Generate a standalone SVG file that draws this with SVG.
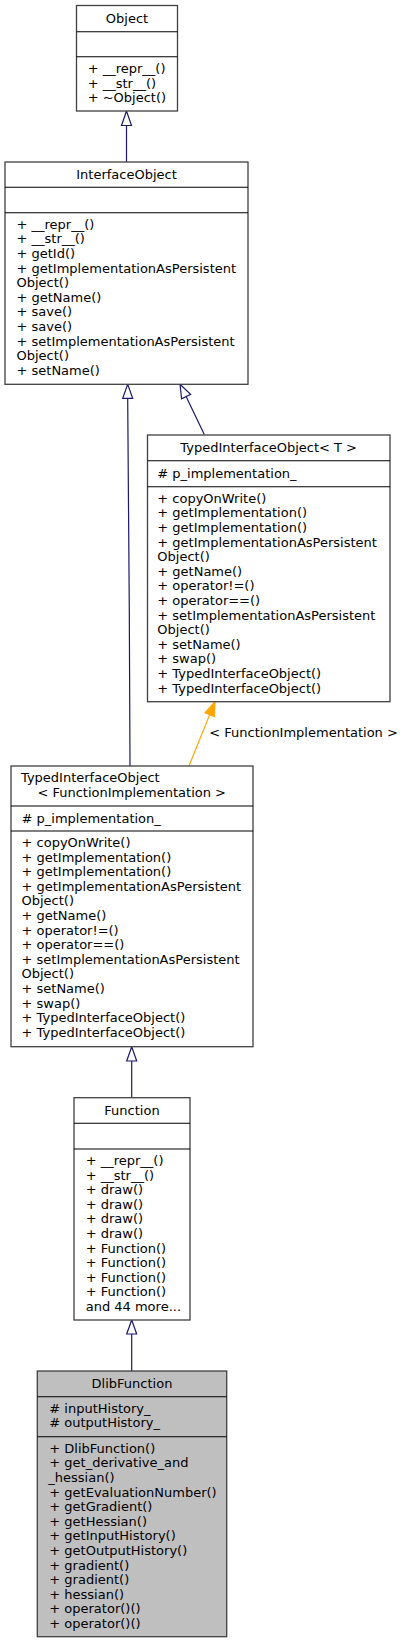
<svg xmlns="http://www.w3.org/2000/svg" width="403" height="1644" viewBox="0 0 403 1644">
<style>
text{font-family:"DejaVu Sans",sans-serif;font-size:13px;fill:#000}
.c{text-anchor:middle}
.box{fill:#fff;stroke:#404040;stroke-width:1.3}
.sel{fill:#bfbfbf;stroke:#404040;stroke-width:1.3}
.div{stroke:#000;stroke-width:1.1}
.edge{fill:none;stroke:#191970;stroke-width:1.2}
.head{fill:#fff;stroke:#191970;stroke-width:1.2}
.tedge{fill:none;stroke:#ffa500;stroke-width:1.2}
.thead{fill:#ffa500;stroke:#ffa500;stroke-width:1.2}
</style>
<rect width="403" height="1644" fill="#fff"/>
<g id="connectors">
<path class="edge" d="M126.5,125.5 L126.5,162"/>
<polygon class="head" points="126.5,111 121.5,125.5 131.5,125.5"/>
<path class="edge" d="M127.7,398.3 C128.2,500 130,650 130,766"/>
<polygon class="head" points="127.7,384.3 122.7,398.3 132.7,398.3"/>
<path class="edge" d="M186.1,396.6 L204.3,434.5"/>
<polygon class="head" points="180,384.3 190.6,394.4 181.6,398.8"/>
<path class="tedge" d="M209.7,714.6 L189,766"/>
<polygon class="thead" points="215,701.7 214.3,716.5 205.1,712.7"/>
<text x="209.3" y="736.7">&lt; FunctionImplementation &gt;</text>
<path class="edge" d="M131.7,1061 L131.7,1097.7"/>
<polygon class="head" points="131.7,1046.7 126.7,1061 136.7,1061"/>
<path class="edge" d="M131.7,1334 L131.7,1371"/>
<polygon class="head" points="131.7,1320 126.7,1334 136.7,1334"/>
</g>
<g id="Object">
<rect class="box" x="76.5" y="5.5" width="101" height="105.5"/>
<line class="div" x1="76.5" y1="31.7" x2="177.5" y2="31.7"/>
<line class="div" x1="76.5" y1="56.7" x2="177.5" y2="56.7"/>
<text class="c" x="127" y="22.8">Object</text>
<text x="87.7" y="73.3">+ __repr__()</text>
<text x="87.7" y="87.8">+ __str__()</text>
<text x="87.7" y="102.3">+ ~Object()</text>
</g>
<g id="InterfaceObject">
<rect class="box" x="5" y="162" width="243" height="222.3"/>
<line class="div" x1="5" y1="187.3" x2="248" y2="187.3"/>
<line class="div" x1="5" y1="212.7" x2="248" y2="212.7"/>
<text class="c" x="126.5" y="178.5">InterfaceObject</text>
<text x="16.5" y="228.7">+ __repr__()</text>
<text x="16.5" y="243.3">+ __str__()</text>
<text x="16.5" y="257.9">+ getId()</text>
<text x="16.5" y="272.5">+ getImplementationAsPersistent</text>
<text x="16.5" y="287.1">Object()</text>
<text x="16.5" y="301.7">+ getName()</text>
<text x="16.5" y="316.3">+ save()</text>
<text x="16.5" y="330.9">+ save()</text>
<text x="16.5" y="345.5">+ setImplementationAsPersistent</text>
<text x="16.5" y="360.1">Object()</text>
<text x="16.5" y="374.7">+ setName()</text>
</g>
<g id="TypedInterfaceObjectT">
<rect class="box" x="147.5" y="435" width="242.5" height="266.7"/>
<line class="div" x1="147.5" y1="460.7" x2="390" y2="460.7"/>
<line class="div" x1="147.5" y1="486.7" x2="390" y2="486.7"/>
<text class="c" x="268.7" y="452.2">TypedInterfaceObject&lt; T &gt;</text>
<text x="157.3" y="478">#  p_implementation_</text>
<text x="157.3" y="502.7">+ copyOnWrite()</text>
<text x="157.3" y="517.3">+ getImplementation()</text>
<text x="157.3" y="531.9">+ getImplementation()</text>
<text x="157.3" y="546.5">+ getImplementationAsPersistent</text>
<text x="157.3" y="561.1">Object()</text>
<text x="157.3" y="575.7">+ getName()</text>
<text x="157.3" y="590.3">+ operator!=()</text>
<text x="157.3" y="604.9">+ operator==()</text>
<text x="157.3" y="619.5">+ setImplementationAsPersistent</text>
<text x="157.3" y="634.1">Object()</text>
<text x="157.3" y="648.7">+ setName()</text>
<text x="157.3" y="663.3">+ swap()</text>
<text x="157.3" y="677.9">+ TypedInterfaceObject()</text>
<text x="157.3" y="692.5">+ TypedInterfaceObject()</text>
</g>
<g id="TypedInterfaceObjectFI">
<rect class="box" x="11" y="766" width="242" height="280.7"/>
<line class="div" x1="11" y1="806" x2="253" y2="806"/>
<line class="div" x1="11" y1="831" x2="253" y2="831"/>
<text x="21" y="781.7">TypedInterfaceObject</text>
<text class="c" x="131.7" y="796.5">&lt; FunctionImplementation &gt;</text>
<text x="21.5" y="822.8">#  p_implementation_</text>
<text x="21.5" y="847">+ copyOnWrite()</text>
<text x="21.5" y="861.6">+ getImplementation()</text>
<text x="21.5" y="876.2">+ getImplementation()</text>
<text x="21.5" y="890.8">+ getImplementationAsPersistent</text>
<text x="21.5" y="905.4">Object()</text>
<text x="21.5" y="920">+ getName()</text>
<text x="21.5" y="934.6">+ operator!=()</text>
<text x="21.5" y="949.2">+ operator==()</text>
<text x="21.5" y="963.8">+ setImplementationAsPersistent</text>
<text x="21.5" y="978.4">Object()</text>
<text x="21.5" y="993">+ setName()</text>
<text x="21.5" y="1007.6">+ swap()</text>
<text x="21.5" y="1022.2">+ TypedInterfaceObject()</text>
<text x="21.5" y="1036.8">+ TypedInterfaceObject()</text>
</g>
<g id="Function">
<rect class="box" x="74" y="1097.7" width="116" height="222.3"/>
<line class="div" x1="74" y1="1123.3" x2="190" y2="1123.3"/>
<line class="div" x1="74" y1="1149" x2="190" y2="1149"/>
<text class="c" x="132" y="1114.8">Function</text>
<text x="85.7" y="1165">+ __repr__()</text>
<text x="85.7" y="1179.6">+ __str__()</text>
<text x="85.7" y="1194.2">+ draw()</text>
<text x="85.7" y="1208.8">+ draw()</text>
<text x="85.7" y="1223.4">+ draw()</text>
<text x="85.7" y="1238">+ draw()</text>
<text x="85.7" y="1252.6">+ Function()</text>
<text x="85.7" y="1267.2">+ Function()</text>
<text x="85.7" y="1281.8">+ Function()</text>
<text x="85.7" y="1296.4">+ Function()</text>
<text x="85.7" y="1311">and 44 more...</text>
</g>
<g id="DlibFunction">
<rect class="sel" x="37.3" y="1371" width="189.4" height="265.7"/>
<line class="div" x1="37.3" y1="1396.7" x2="226.7" y2="1396.7"/>
<line class="div" x1="37.3" y1="1436.7" x2="226.7" y2="1436.7"/>
<text class="c" x="132" y="1388.2">DlibFunction</text>
<text x="49.3" y="1412.7">#  inputHistory_</text>
<text x="49.3" y="1427.3">#  outputHistory_</text>
<text x="49.3" y="1452.7">+ DlibFunction()</text>
<text x="49.3" y="1467.3">+ get_derivative_and</text>
<text x="48.3" y="1481.9">_hessian()</text>
<text x="49.3" y="1496.5">+ getEvaluationNumber()</text>
<text x="49.3" y="1511.1">+ getGradient()</text>
<text x="49.3" y="1525.7">+ getHessian()</text>
<text x="49.3" y="1540.3">+ getInputHistory()</text>
<text x="49.3" y="1554.9">+ getOutputHistory()</text>
<text x="49.3" y="1569.5">+ gradient()</text>
<text x="49.3" y="1584.1">+ gradient()</text>
<text x="49.3" y="1598.7">+ hessian()</text>
<text x="49.3" y="1613.3">+ operator()()</text>
<text x="49.3" y="1627.9">+ operator()()</text>
</g>
</svg>
